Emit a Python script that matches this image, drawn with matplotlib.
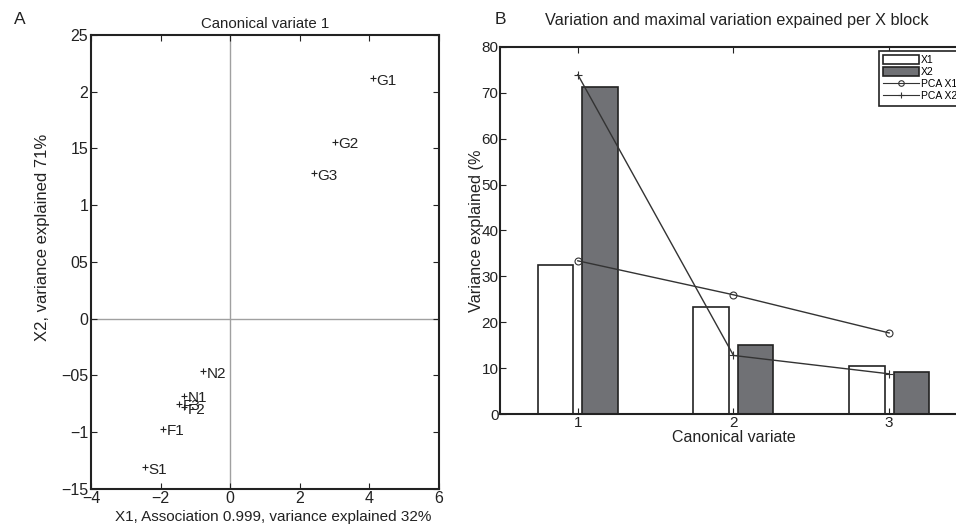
import numpy as np
import matplotlib
matplotlib.use("Agg")
import matplotlib.pyplot as plt
from matplotlib.patches import Patch
from matplotlib.lines import Line2D

plt.rcParams['font.family'] = ['Liberation Sans', 'DejaVu Sans']

# Panel A - canonical variate scores
names = ['G1', 'G2', 'G3', 'N2', 'N1', 'F3', 'F2', 'F1', 'S1']
x1 = [4.09, 3.0, 2.4, -0.77, -1.33, -1.46, -1.32, -1.92, -2.45]
x2 = [2.12, 1.56, 1.28, -0.46, -0.68, -0.75, -0.78, -0.97, -1.31]
a_xticks = [-4, -2, 0, 2, 4, 6]
a_yticks = [-1.5, -1, -0.5, 0, 0.5, 1, 1.5, 2, 2.5]
a_ylabels = ['\u221215', '\u22121', '\u221205', '0', '05', '1', '15', '2', '25']

# Panel B - variance explained per canonical variate
variates = [1, 2, 3]
var_x1 = [32.5, 23.4, 10.6]
var_x2 = [71.3, 15.0, 9.3]
pca_x1 = [33.4, 26.0, 17.7]
pca_x2 = [73.9, 12.8, 8.8]

dark = '#222222'
gray_fill = '#707175'

fig = plt.figure(figsize=(9.56, 5.24), dpi=100)

# ---------------- A ----------------
ax = fig.add_axes([0.0952, 0.0674, 0.364, 0.8658])
ax.set_xlim(-4, 6)
ax.set_ylim(-1.5, 2.5)
ax.axvline(0, color='#a0a0a0', lw=1.0, zorder=1)
ax.axhline(0, color='#a0a0a0', lw=1.0, zorder=1)
ax.plot(x1, x2, ls='none', marker='+', ms=5, mew=0.8, color=dark, zorder=3)
for n, xx, yy in zip(names, x1, x2):
    ax.annotate(n, (xx, yy), xytext=(2.5, -2), textcoords='offset points',
                ha='left', va='center', fontsize=11, color=dark)
ax.set_xticks(a_xticks)
ax.set_yticks(a_yticks)
ax.set_yticklabels(a_ylabels)
ax.tick_params(direction='in', length=4, width=0.8, top=True, right=True,
               labelsize=11.5, colors=dark, pad=2)
for s in ax.spines.values():
    s.set_linewidth(1.5)
    s.set_color(dark)
ax.set_title('Canonical variate 1', fontsize=10.8, color=dark, pad=5)
ax.set_xlabel('X1, Association 0.999, variance explained 32%', fontsize=11, color=dark)
ax.xaxis.set_label_coords(0.523, -0.047)
ax.xaxis.label.set_va('top')
ax.set_ylabel('X2, variance explained 71%', fontsize=12, color=dark)
ax.yaxis.set_label_coords(-0.118, 0.553)
fig.text(20 / 956, 1 - 20 / 524, 'A', fontsize=12.5, color=dark, ha='center', va='center')

# ---------------- B ----------------
bx = fig.add_axes([0.523, 0.2094, 0.4885, 0.7015])
v = np.array(variates)
bx.bar(v - 0.143, var_x1, width=0.228, color='white', edgecolor=dark, lw=1.2, zorder=2)
bx.bar(v + 0.143, var_x2, width=0.228, color=gray_fill, edgecolor=dark, lw=1.2, zorder=2)
bx.plot(v, pca_x1, color='#333333', lw=1.0, marker='o', ms=5, mfc='none', mew=0.8, zorder=3)
bx.plot(v, pca_x2, color='#333333', lw=1.0, marker='+', ms=6, mew=0.8, zorder=3)
bx.set_xlim(0.5, 3.5)
bx.set_ylim(0, 80)
bx.set_xticks(variates)
bx.set_yticks(np.arange(0, 81, 10))
bx.tick_params(direction='in', length=4, width=0.8, top=True, right=True,
               labelsize=11, colors=dark, pad=1)
for s in bx.spines.values():
    s.set_linewidth(1.5)
    s.set_color(dark)
bx.set_xlabel('Canonical variate', fontsize=11.5, color=dark, labelpad=0)
bx.set_ylabel('Variance explained (%', fontsize=11.7, color=dark, labelpad=-2)
fig.text(737 / 956, 1 - 20 / 524, 'Variation and maximal variation expained per X block',
         fontsize=11.7, color=dark, ha='center', va='center')
fig.text(500 / 956, 1 - 20 / 524, 'B', fontsize=12.5, color=dark, ha='center', va='center')

handles = [
    Patch(facecolor='white', edgecolor=dark, lw=1.2),
    Patch(facecolor=gray_fill, edgecolor=dark, lw=1.2),
    Line2D([], [], color='#333333', lw=0.8, marker='o', ms=4, mfc='none', mew=0.8),
    Line2D([], [], color='#333333', lw=0.8, marker='+', ms=5, mew=0.8),
]
leg = fig.legend(handles, ['X1', 'X2', 'PCA X1', 'PCA X2'],
                 loc='upper left', bbox_to_anchor=(879 / 956, 1 - 51 / 524),
                 fontsize=7.5, frameon=True, fancybox=False, framealpha=1,
                 edgecolor=dark, handlelength=3.4, handleheight=0.9,
                 handletextpad=0.2, labelspacing=0.2, borderpad=0.4,
                 borderaxespad=0)
leg.get_frame().set_linewidth(1.2)

fig.savefig('out.png', dpi=100)
